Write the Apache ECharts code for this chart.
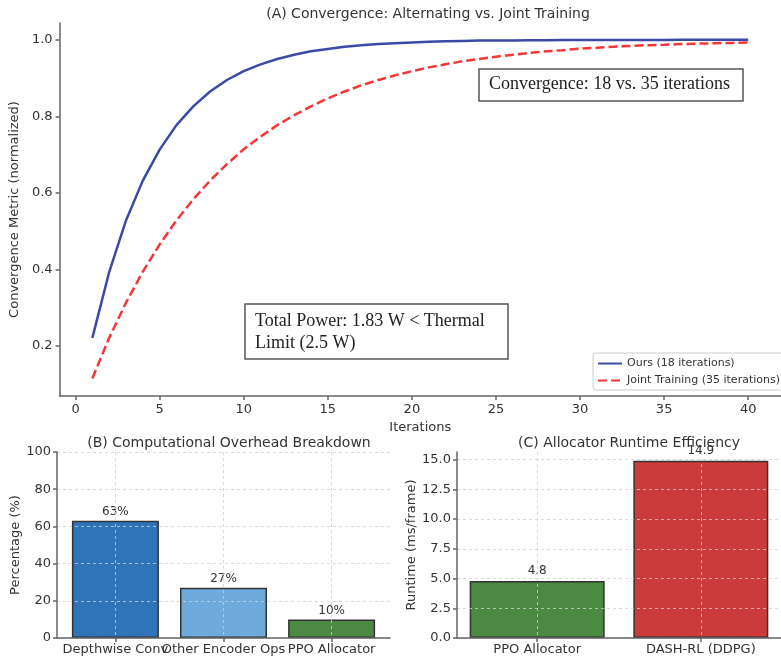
<!DOCTYPE html>
<html>
<head>
<meta charset="utf-8">
<script src="https://cdn.jsdelivr.net/npm/echarts@6/dist/echarts.min.js"></script>
<style>html,body{margin:0;padding:0;background:#fff;}#c{width:781px;height:657px;}</style>
</head>
<body>
<div id="c"></div>
<script>
// ---- Data ----
const iterations = [1,2,3,4,5,6,7,8,9,10,11,12,13,14,15,16,17,18,19,20,21,22,23,24,25,26,27,28,29,30,31,32,33,34,35,36,37,38,39,40];
const oursValues = [0.221,0.393,0.528,0.632,0.713,0.777,0.826,0.865,0.895,0.918,0.936,0.950,0.961,0.970,0.976,0.982,0.986,0.989,0.991,0.993,0.995,0.996,0.997,0.998,0.998,0.9985,0.9988,0.9991,0.9993,0.9994,0.9996,0.9997,0.9997,0.9998,0.9998,0.9999,0.9999,0.9999,0.9999,0.9999];
const jointValues = [0.115,0.221,0.313,0.394,0.465,0.528,0.583,0.632,0.675,0.714,0.747,0.777,0.803,0.826,0.847,0.865,0.881,0.895,0.907,0.918,0.928,0.936,0.944,0.950,0.956,0.961,0.966,0.970,0.973,0.977,0.979,0.982,0.984,0.986,0.987,0.989,0.990,0.991,0.992,0.993];
const seriesNames = ['Ours (18 iterations)', 'Joint Training (35 iterations)'];
const xTicksA = [0,5,10,15,20,25,30,35,40];
const yTicksA = [0.2,0.4,0.6,0.8,1.0];

const overheadCategories = ['Depthwise Conv', 'Other Encoder Ops', 'PPO Allocator'];
const overheadValues = [63, 27, 10];
const yTicksB = [0,20,40,60,80,100];

const runtimeCategories = ['PPO Allocator', 'DASH-RL (DDPG)'];
const runtimeValues = [4.8, 14.9];
const yTicksC = [0,2.5,5,7.5,10,12.5,15];

const overheadColors = ['#2f73b9', '#6eaadb', '#4c8943'];
const runtimeColors = ['#4c8943', '#cb3b3b'];

// ---- Chart ----
const chart = echarts.init(document.getElementById('c'), null, {renderer: 'canvas'});
const axisLineStyle = {color: '#666', width: 1.5};
const tickLabel = {color: '#333', fontSize: 13, fontFamily: 'DejaVu Sans', hideOverlap: false, interval: 0, showMinLabel: true, showMaxLabel: true};
const gridLine = {show: true, lineStyle: {color: '#d0d0d0', width: 0.8, type: [3, 3]}};
const nameStyle = {color: '#333', fontSize: 13, fontFamily: 'DejaVu Sans'};
const titleStyle = {fontSize: 14, fontWeight: 'normal', color: '#333', fontFamily: 'DejaVu Sans'};
const catLabelB = v => overheadCategories[Math.round(v)];

const option = {
  animation: false,
  backgroundColor: '#fff',
  title: [
    {text: '(A) Convergence: Alternating vs. Joint Training', left: 423, top: 2, textAlign: 'center', textStyle: titleStyle},
    {text: '(B) Computational Overhead Breakdown', left: 224, top: 431, textAlign: 'center', textStyle: titleStyle},
    {text: '(C) Allocator Runtime Efficiency', left: 624, top: 431, textAlign: 'center', textStyle: titleStyle}
  ],
  legend: {
    data: seriesNames,
    orient: 'vertical',
    left: 593, top: 353,
    itemWidth: 24, itemHeight: 10, itemGap: 6,
    padding: [5, 6, 4, 4],
    backgroundColor: '#fff',
    borderColor: '#cccccc', borderWidth: 1, borderRadius: 3,
    itemStyle: {opacity: 0},
    textStyle: {fontSize: 11, color: '#333', fontFamily: 'DejaVu Sans'}
  },
  grid: [
    {left: 57, top: 23, width: 733, height: 373},
    {left: 57, top: 452, width: 333, height: 186},
    {left: 457, top: 452, width: 334, height: 186}
  ],
  xAxis: [
    {gridIndex: 0, type: 'value', min: -0.95, max: 41.95,
     name: 'Iterations', nameLocation: 'middle', nameGap: 16, nameTextStyle: nameStyle,
     axisLine: {show: true, onZero: false, lineStyle: axisLineStyle},
     axisTick: {show: true, length: 4, lineStyle: axisLineStyle, customValues: xTicksA},
     axisLabel: Object.assign({customValues: xTicksA, margin: 7}, tickLabel),
     splitLine: {show: false}},
    {gridIndex: 1, type: 'value', min: -0.54, max: 2.54, z: 5, position: 'bottom',
     axisLine: {show: true, onZero: false, lineStyle: axisLineStyle},
     axisTick: {show: true, length: 4, lineStyle: axisLineStyle, customValues: [0,1,2]},
     axisLabel: Object.assign({}, tickLabel, {customValues: [0,2], margin: 5, formatter: catLabelB}),
     splitLine: gridLine},
    {gridIndex: 2, type: 'value', min: -0.49, max: 1.49, z: 5,
     axisLine: {show: true, onZero: false, lineStyle: axisLineStyle},
     axisTick: {show: true, length: 4, lineStyle: axisLineStyle, customValues: [0,1]},
     axisLabel: Object.assign({customValues: [0,1], margin: 5, formatter: v => runtimeCategories[Math.round(v)]}, tickLabel),
     splitLine: gridLine},
    {gridIndex: 1, type: 'value', min: -0.54, max: 2.54, z: 6, position: 'bottom', offset: 0,
     axisLine: {show: false, onZero: false},
     axisTick: {show: false},
     axisLabel: Object.assign({}, tickLabel, {customValues: [1], margin: 5, formatter: catLabelB}),
     splitLine: {show: false}}
  ],
  yAxis: [
    {gridIndex: 0, type: 'value', min: 0.069, max: 1.044,
     name: 'Convergence Metric (normalized)', nameLocation: 'middle', nameGap: 30, nameTextStyle: nameStyle,
     axisLine: {show: true, onZero: false, lineStyle: axisLineStyle},
     axisTick: {show: true, length: 4, lineStyle: axisLineStyle, customValues: yTicksA},
     axisLabel: Object.assign({customValues: yTicksA, margin: 7, formatter: v => v.toFixed(1)}, tickLabel),
     splitLine: {show: false}},
    {gridIndex: 1, type: 'value', min: 0, max: 100, z: 5,
     name: 'Percentage (%)', nameLocation: 'middle', nameGap: 33, nameTextStyle: nameStyle,
     axisLine: {show: true, onZero: false, lineStyle: axisLineStyle},
     axisTick: {show: true, length: 4, lineStyle: axisLineStyle, customValues: yTicksB},
     axisLabel: Object.assign({customValues: yTicksB, margin: 6}, tickLabel),
     splitLine: gridLine},
    {gridIndex: 2, type: 'value', min: 0, max: 15.645, z: 5,
     name: 'Runtime (ms/frame)', nameLocation: 'middle', nameGap: 34, nameTextStyle: nameStyle,
     axisLine: {show: true, onZero: false, lineStyle: axisLineStyle},
     axisTick: {show: true, length: 4, lineStyle: axisLineStyle, customValues: yTicksC},
     axisLabel: Object.assign({customValues: yTicksC, margin: 6, formatter: v => v.toFixed(1)}, tickLabel),
     splitLine: gridLine}
  ],
  series: [
    {name: seriesNames[0], type: 'line', xAxisIndex: 0, yAxisIndex: 0, symbol: 'none', smooth: false,
     data: iterations.map((x, i) => [x, oursValues[i]]),
     itemStyle: {color: '#3a4aa6'},
     lineStyle: {color: '#3a4aa6', width: 2.5}},
    {name: seriesNames[1], type: 'line', xAxisIndex: 0, yAxisIndex: 0, symbol: 'none', smooth: false,
     data: iterations.map((x, i) => [x, jointValues[i]]),
     itemStyle: {color: '#f43636'},
     lineStyle: {color: '#f43636', width: 2.5, type: [9, 4]}},
    {type: 'bar', xAxisIndex: 1, yAxisIndex: 1, barWidth: 87,
     data: overheadValues.map((v, i) => ({value: [i, v], itemStyle: {color: overheadColors[i]}})),
     itemStyle: {borderColor: '#333', borderWidth: 1.5},
     label: {show: true, position: 'top', distance: 3, formatter: p => p.value[1] + '%',
             color: '#333', fontSize: 12, fontFamily: 'DejaVu Sans'}},
    {type: 'bar', xAxisIndex: 2, yAxisIndex: 2, barWidth: 135,
     data: runtimeValues.map((v, i) => ({value: [i, v], itemStyle: {color: runtimeColors[i]}})),
     itemStyle: {borderColor: '#333', borderWidth: 1.5},
     label: {show: true, position: 'top', distance: 4, formatter: p => p.value[1].toFixed(1),
             color: '#333', fontSize: 12, fontFamily: 'DejaVu Sans'}}
  ],
  graphic: [
    {type: 'rect', z: 100, shape: {x: 479, y: 69, width: 264, height: 32},
     style: {fill: '#fff', stroke: '#555', lineWidth: 1.5}},
    {type: 'text', z: 101, x: 489, y: 75,
     style: {text: 'Convergence: 18 vs. 35 iterations', font: '18px "Liberation Serif"', fill: '#222', verticalAlign: 'top'}},
    {type: 'rect', z: 100, shape: {x: 245, y: 304, width: 263, height: 55},
     style: {fill: '#fff', stroke: '#555', lineWidth: 1.5}},
    {type: 'text', z: 101, x: 255, y: 310,
     style: {text: 'Total Power: 1.83 W < Thermal\nLimit (2.5 W)', font: '18px "Liberation Serif"', fill: '#222', verticalAlign: 'top', lineHeight: 22}}
  ]
};
chart.setOption(option);
</script>
</body>
</html>
